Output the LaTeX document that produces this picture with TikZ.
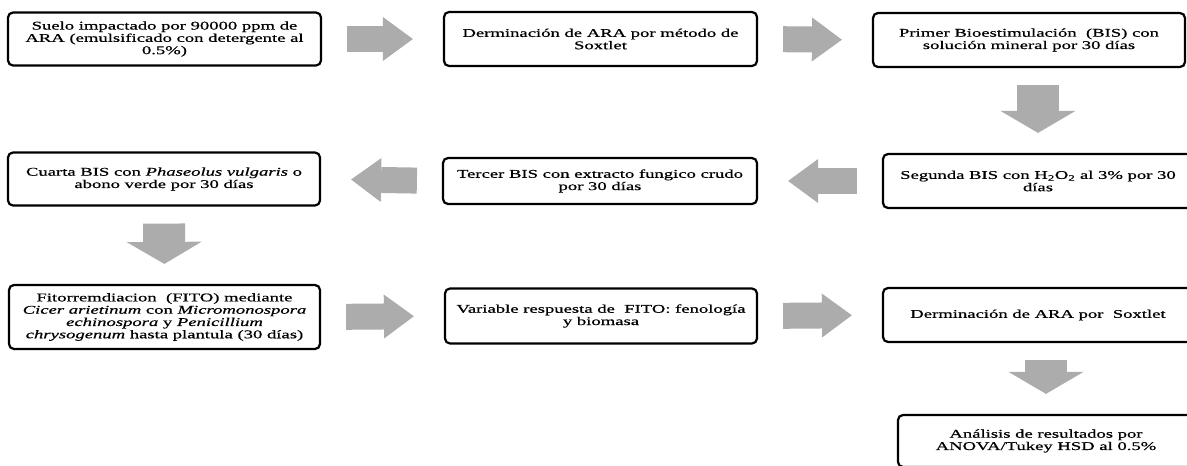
\documentclass[tikz,border=0pt]{standalone}
\usepackage{fontspec}
\setmainfont[FakeStretch=1.58, FakeBold=0.6]{Liberation Serif}
\usepackage{tikz}
\usetikzlibrary{arrows.meta}

\definecolor{arrowgray}{RGB}{172,172,172}

\tikzset{
  stepbox/.style={draw, line width=2.2pt, rounded corners=5pt, fill=white,
    align=center, inner sep=0pt, font=\fontsize{11.8}{12.3}\selectfont},
  hblock/.style={draw=arrowgray, line width=26pt, shorten <=25pt, shorten >=30pt,
    -{Triangle[length=30pt 0 0, width=44pt 0 0, line width=0pt 0 0]}},
  vblock/.style={draw=arrowgray, line width=42pt, shorten <=17pt, shorten >=20pt,
    -{Triangle[length=22pt 0 0, width=75pt 0 0, line width=0pt 0 0]}}
}

\begin{document}
\begin{tikzpicture}[x=1pt, y=-1pt]
             \useasboundingbox (0, 0) rectangle (1187, 466);
             \clip (0, 0) rectangle (1187, 466);

             \node[stepbox, minimum width=313pt, minimum height=53pt] (s1) at (164.5, 39)
               {Suelo impactado por 90000 ppm de\\ARA (emulsificado con detergente al\\0.5\%)};
             \node[stepbox, minimum width=313pt, minimum height=54pt] (s2) at (600.5, 39)
               {Derminación de ARA por método de\\Soxtlet};
             \node[stepbox, minimum width=312pt, minimum height=54pt] (s3) at (1029, 40)
               {Primer Bioestimulación\ \ (BIS) con\\solución mineral por 30 días};

             \node[stepbox, minimum width=310pt, minimum height=54pt] (s4) at (1038, 181)
               {Segunda BIS con H\textsubscript{2}O\textsubscript{2} al 3\% por 30\\días};
             \node[stepbox, minimum width=314pt, minimum height=46pt] (s5) at (600, 181)
               {Tercer BIS con extracto fungico crudo\\por 30 días};
             \node[stepbox, minimum width=312pt, minimum height=53pt] (s6) at (164, 179)
               {Cuarta BIS con \textit{Phaseolus vulgaris} o\\abono verde por 30 días};

             \node[stepbox, minimum width=311pt, minimum height=64pt] (s7) at (164.5, 317)
               {Fitorremdiacion\ \ (FITO) mediante\\\textit{Cicer arietinum} con \textit{Micromonospora}\\\textit{echinospora} y \textit{Penicillium}\\\textit{chrysogenum} hasta plantula (30 días)};
             \node[stepbox, minimum width=312pt, minimum height=55pt] (s8) at (601, 316)
               {Variable respuesta de\ \ FITO: fenología\\y biomasa};
             \node[stepbox, minimum width=310pt, minimum height=54pt] (s9) at (1038, 315)
               {Derminación de ARA por\ \ Soxtlet};

             \node[stepbox, minimum width=296pt, minimum height=52pt] (s10) at (1046, 441)
               {Análisis de resultados por\\ANOVA/Tukey HSD al 0.5\%};

             \draw[hblock] (s1.east) -- (s2.west);
             \draw[hblock] (s2.east) -- (s3.west);
             \draw[vblock] (s3.south -| s4.north) -- (s4.north);
             \draw[hblock] (s4.west) -- (s5.east);
             \draw[hblock] (s5.west) -- (s6.east);
             \draw[vblock] (s6.south) -- (s7.north);
             \draw[hblock] (s7.east) -- (s8.west);
             \draw[hblock] (s8.east) -- (s9.west);
             \draw[vblock] (s9.south -| s10.north) -- (s10.north);
             \end{tikzpicture}
\end{document}
